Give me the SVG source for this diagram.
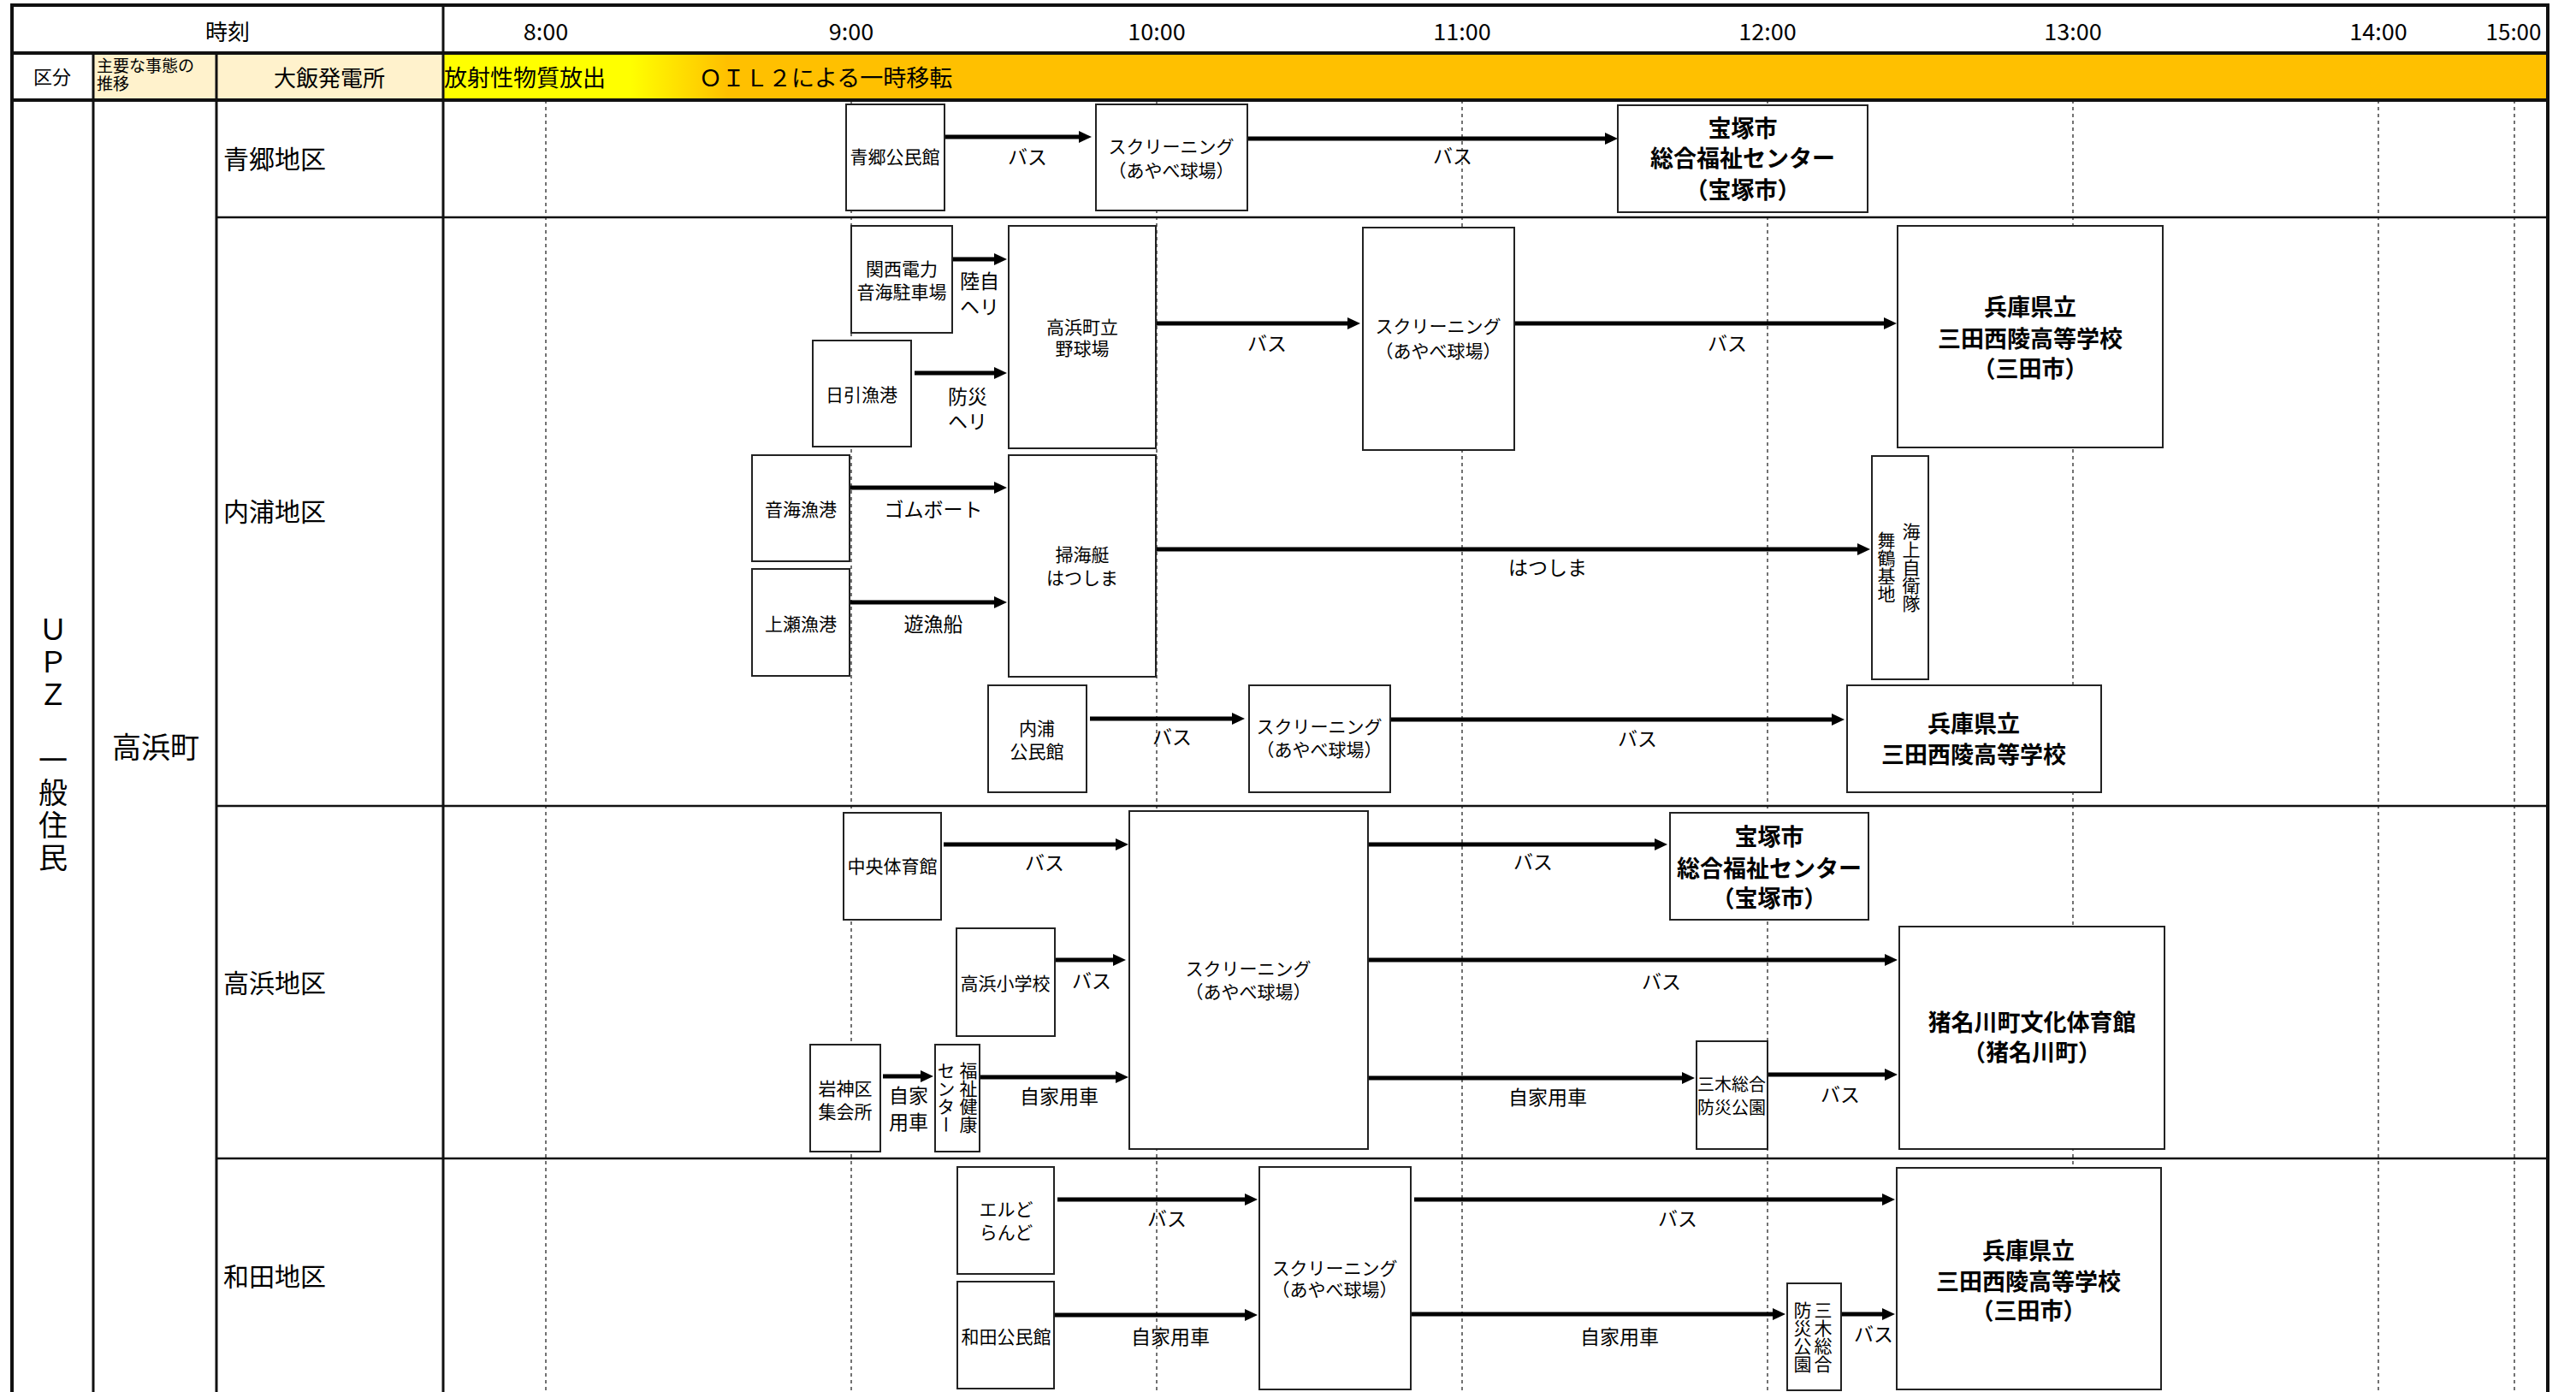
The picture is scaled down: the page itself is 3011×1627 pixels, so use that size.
<svg xmlns="http://www.w3.org/2000/svg" width="3011" height="1627" viewBox="0 0 3011 1627">
<style>
text{font-family:"Noto Sans CJK JP","Noto Sans",sans-serif;fill:#000}
.hd{font-size:26px;text-anchor:middle}
.tm{font-size:27px;text-anchor:middle}
.src{font-size:21px;text-anchor:middle}
.lbl{font-size:23px;text-anchor:middle}
.dst{font-size:27px;font-weight:bold;text-anchor:middle}
.reg{font-size:30px}
.vt{font-size:21px;writing-mode:vertical-rl;text-anchor:middle}
.box{fill:#fff;stroke:#222;stroke-width:2}
.arr{stroke:#000;stroke-width:5;fill:none;marker-end:url(#ah)}
.grid{stroke:#111;fill:none}
.dash{stroke:#444;stroke-width:1.5;stroke-dasharray:4 4}
</style>
<defs>
<marker id="ah" markerUnits="userSpaceOnUse" markerWidth="16" markerHeight="16" refX="5" refY="8" orient="auto"><path d="M0,1 L15,8 L0,15 z" fill="#000"/></marker>
<linearGradient id="band" gradientUnits="userSpaceOnUse" x1="518" y1="0" x2="2978" y2="0">
<stop offset="0" stop-color="#FFFF00"/><stop offset="0.089" stop-color="#FFFF00"/><stop offset="0.135" stop-color="#FFC000"/><stop offset="1" stop-color="#FFC000"/>
</linearGradient>
</defs>
<rect width="3011" height="1627" fill="#fff"/>
<g id="header">
<rect x="109" y="62" width="409" height="55" fill="#FFF2CC"/>
<rect x="518" y="62" width="2460" height="55" fill="url(#band)"/>
<text class="hd" x="266" y="47">時刻</text>
<text class="tm" x="638" y="47">8:00</text>
<text class="tm" x="995" y="47">9:00</text>
<text class="tm" x="1352" y="47">10:00</text>
<text class="tm" x="1709" y="47">11:00</text>
<text class="tm" x="2066" y="47">12:00</text>
<text class="tm" x="2423" y="47">13:00</text>
<text class="tm" x="2780" y="47">14:00</text>
<text class="tm" x="2938" y="47" style="font-size:26px">15:00</text>
<text x="61" y="98" style="font-size:22px;text-anchor:middle">区分</text>
<text x="113" y="84" style="font-size:19px">主要な事態の</text>
<text x="113" y="105" style="font-size:19px">推移</text>
<text x="385" y="101" style="font-size:26px;text-anchor:middle">大飯発電所</text>
<text x="519" y="101" style="font-size:27px">放射性物質放出</text>
<text x="817" y="101" style="font-size:27px">ＯＩＬ２による一時移転</text>
</g>
<g id="timelines">
<line class="dash" x1="638" y1="117" x2="638" y2="1627"/>
<line class="dash" x1="995" y1="117" x2="995" y2="1627"/>
<line class="dash" x1="1352" y1="117" x2="1352" y2="1627"/>
<line class="dash" x1="1709" y1="117" x2="1709" y2="1627"/>
<line class="dash" x1="2066" y1="117" x2="2066" y2="1627"/>
<line class="dash" x1="2423" y1="117" x2="2423" y2="1627"/>
<line class="dash" x1="2780" y1="117" x2="2780" y2="1627"/>
<line class="dash" x1="2939" y1="117" x2="2939" y2="1627"/>
</g>
<g id="grid">
<line class="grid" x1="14" y1="62" x2="2978" y2="62" stroke-width="4"/>
<line class="grid" x1="14" y1="117" x2="2978" y2="117" stroke-width="4"/>
<line class="grid" x1="518" y1="6" x2="518" y2="1627" stroke-width="3"/>
<line class="grid" x1="109" y1="62" x2="109" y2="1627" stroke-width="3"/>
<line class="grid" x1="253" y1="62" x2="253" y2="1627" stroke-width="3"/>
<line class="grid" x1="253" y1="254" x2="2978" y2="254" stroke-width="2.5"/>
<line class="grid" x1="253" y1="942" x2="2978" y2="942" stroke-width="2.5"/>
<line class="grid" x1="253" y1="1354" x2="2978" y2="1354" stroke-width="2.5"/>
<rect x="14" y="6" width="2964" height="1640" fill="none" stroke="#111" stroke-width="4"/>
</g>
<g id="rows">
<text x="62" y="871" style="font-size:34px;writing-mode:vertical-rl;text-anchor:middle;letter-spacing:4px">ＵＰＺ　一般住民</text>
<text x="182" y="886" style="font-size:34px;text-anchor:middle">高浜町</text>
<text class="reg" x="261" y="197">青郷地区</text>
<text class="reg" x="261" y="609">内浦地区</text>
<text class="reg" x="261" y="1160">高浜地区</text>
<text class="reg" x="261" y="1503">和田地区</text>
</g>
<g id="connectors">
<line class="arr" x1="1104" y1="160" x2="1266" y2="160"/>
<text class="lbl" x="1201" y="192">バス</text>
<line class="arr" x1="1458" y1="162" x2="1881" y2="162"/>
<text class="lbl" x="1698" y="191">バス</text>
<line class="arr" x1="1113" y1="303" x2="1167" y2="303"/>
<text class="lbl" x="1145" y="337">陸自</text>
<text class="lbl" x="1145" y="367">ヘリ</text>
<line class="arr" x1="1069" y1="436" x2="1167" y2="436"/>
<text class="lbl" x="1131" y="472">防災</text>
<text class="lbl" x="1131" y="501">ヘリ</text>
<line class="arr" x1="1351" y1="378" x2="1580" y2="378"/>
<text class="lbl" x="1481" y="410">バス</text>
<line class="arr" x1="1770" y1="378" x2="2207" y2="378"/>
<text class="lbl" x="2019" y="410">バス</text>
<line class="arr" x1="993" y1="570" x2="1167" y2="570"/>
<text class="lbl" x="1091" y="604">ゴムボート</text>
<line class="arr" x1="993" y1="704" x2="1167" y2="704"/>
<text class="lbl" x="1091" y="738">遊漁船</text>
<line class="arr" x1="1351" y1="642" x2="2176" y2="642"/>
<text class="lbl" x="1809" y="672">はつしま</text>
<line class="arr" x1="1274" y1="840" x2="1445" y2="840"/>
<text class="lbl" x="1370" y="870">バス</text>
<line class="arr" x1="1625" y1="841" x2="2146" y2="841"/>
<text class="lbl" x="1914" y="872">バス</text>
<line class="arr" x1="1103" y1="987" x2="1309" y2="987"/>
<text class="lbl" x="1221" y="1017">バス</text>
<line class="arr" x1="1599" y1="987" x2="1939" y2="987"/>
<text class="lbl" x="1792" y="1016">バス</text>
<line class="arr" x1="1233" y1="1122" x2="1306" y2="1122"/>
<text class="lbl" x="1276" y="1155">バス</text>
<line class="arr" x1="1599" y1="1122" x2="2208" y2="1122"/>
<text class="lbl" x="1942" y="1156">バス</text>
<line class="arr" x1="1032" y1="1258" x2="1081" y2="1258"/>
<text class="lbl" x="1062" y="1289">自家</text>
<text class="lbl" x="1062" y="1320">用車</text>
<line class="arr" x1="1145" y1="1259" x2="1309" y2="1259"/>
<text class="lbl" x="1238" y="1290">自家用車</text>
<line class="arr" x1="1599" y1="1260" x2="1971" y2="1260"/>
<text class="lbl" x="1809" y="1291">自家用車</text>
<line class="arr" x1="2066" y1="1256" x2="2208" y2="1256"/>
<text class="lbl" x="2151" y="1288">バス</text>
<line class="arr" x1="1236" y1="1402" x2="1460" y2="1402"/>
<text class="lbl" x="1364" y="1433">バス</text>
<line class="arr" x1="1232" y1="1537" x2="1460" y2="1537"/>
<text class="lbl" x="1368" y="1571">自家用車</text>
<line class="arr" x1="1653" y1="1402" x2="2205" y2="1402"/>
<text class="lbl" x="1961" y="1433">バス</text>
<line class="arr" x1="1649" y1="1536" x2="2077" y2="1536"/>
<text class="lbl" x="1893" y="1571">自家用車</text>
<line class="arr" x1="2152" y1="1536" x2="2205" y2="1536"/>
<text class="lbl" x="2190" y="1568">バス</text>
</g>
<g id="n_aogo_kominkan"><rect class="box" x="989" y="122" width="115" height="124"/><text class="src" x="1046" y="191">青郷公民館</text></g>
<g id="n_aogo_screening"><rect class="box" x="1281" y="122" width="177" height="124"/><text class="src" x="1369" y="179">スクリーニング</text><text class="src" x="1369" y="207">（あやべ球場）</text></g>
<g id="n_aogo_takarazuka"><rect class="box" x="1891" y="123" width="292" height="125"/><text class="dst" x="2037" y="160">宝塚市</text><text class="dst" x="2037" y="195">総合福祉センター</text><text class="dst" x="2037" y="232">（宝塚市）</text></g>
<g id="n_kanden"><rect class="box" x="995" y="264" width="118" height="125"/><text class="src" x="1054" y="322">関西電力</text><text class="src" x="1054" y="349">音海駐車場</text></g>
<g id="n_hibiki"><rect class="box" x="950" y="398" width="115" height="124"/><text class="src" x="1007" y="469">日引漁港</text></g>
<g id="n_takahama_stadium"><rect class="box" x="1179" y="264" width="172" height="260"/><text class="src" x="1265" y="390">高浜町立</text><text class="src" x="1265" y="415">野球場</text></g>
<g id="n_uchiura_screening1"><rect class="box" x="1593" y="266" width="177" height="260"/><text class="src" x="1681" y="389">スクリーニング</text><text class="src" x="1681" y="418">（あやべ球場）</text></g>
<g id="n_sanda1"><rect class="box" x="2218" y="264" width="310" height="259"/><text class="dst" x="2373" y="369">兵庫県立</text><text class="dst" x="2373" y="406">三田西陵高等学校</text><text class="dst" x="2373" y="441">（三田市）</text></g>
<g id="n_otomi"><rect class="box" x="879" y="532" width="114" height="124"/><text class="src" x="936" y="603">音海漁港</text></g>
<g id="n_uwase"><rect class="box" x="879" y="665" width="114" height="125"/><text class="src" x="936" y="737">上瀬漁港</text></g>
<g id="n_hatsushima"><rect class="box" x="1179" y="532" width="172" height="259"/><text class="src" x="1265" y="656">掃海艇</text><text class="src" x="1265" y="683">はつしま</text></g>
<g id="n_maizuru"><rect class="box" x="2188" y="533" width="66" height="261"/><text class="vt" x="2234" y="663">海上自衛隊</text><text class="vt" x="2205" y="663">舞鶴基地</text></g>
<g id="n_uchiura_kominkan"><rect class="box" x="1155" y="801" width="115" height="125"/><text class="src" x="1212" y="859">内浦</text><text class="src" x="1212" y="886">公民館</text></g>
<g id="n_uchiura_screening2"><rect class="box" x="1460" y="801" width="165" height="125"/><text class="src" x="1542" y="857">スクリーニング</text><text class="src" x="1542" y="884">（あやべ球場）</text></g>
<g id="n_sanda2"><rect class="box" x="2159" y="801" width="297" height="125"/><text class="dst" x="2307" y="856">兵庫県立</text><text class="dst" x="2307" y="892">三田西陵高等学校</text></g>
<g id="n_chuo"><rect class="box" x="986" y="950" width="114" height="125"/><text class="src" x="1043" y="1020">中央体育館</text></g>
<g id="n_takahama_screening"><rect class="box" x="1320" y="948" width="279" height="395"/><text class="src" x="1459" y="1140">スクリーニング</text><text class="src" x="1459" y="1167">（あやべ球場）</text></g>
<g id="n_takahama_sho"><rect class="box" x="1118" y="1085" width="115" height="126"/><text class="src" x="1175" y="1157">高浜小学校</text></g>
<g id="n_iwagami"><rect class="box" x="947" y="1221" width="82" height="125"/><text class="src" x="988" y="1280">岩神区</text><text class="src" x="988" y="1307">集会所</text></g>
<g id="n_fukushi"><rect class="box" x="1093" y="1221" width="52" height="125"/><text class="vt" x="1132" y="1283">福祉健康</text><text class="vt" x="1106" y="1283">センター</text></g>
<g id="n_takarazuka2"><rect class="box" x="1952" y="950" width="232" height="125"/><text class="dst" x="2068" y="988">宝塚市</text><text class="dst" x="2068" y="1025">総合福祉センター</text><text class="dst" x="2068" y="1060">（宝塚市）</text></g>
<g id="n_inagawa"><rect class="box" x="2220" y="1083" width="310" height="260"/><text class="dst" x="2375" y="1205">猪名川町文化体育館</text><text class="dst" x="2375" y="1240">（猪名川町）</text></g>
<g id="n_miki1"><rect class="box" x="1983" y="1217" width="83" height="126"/><text class="src" x="2024" y="1275" style="font-size:20px">三木総合</text><text class="src" x="2024" y="1302" style="font-size:20px">防災公園</text></g>
<g id="n_eldorando"><rect class="box" x="1119" y="1364" width="113" height="125"/><text class="src" x="1176" y="1421">エルど</text><text class="src" x="1176" y="1448">らんど</text></g>
<g id="n_wada_kominkan"><rect class="box" x="1119" y="1498" width="113" height="125"/><text class="src" x="1176" y="1570">和田公民館</text></g>
<g id="n_wada_screening"><rect class="box" x="1472" y="1364" width="177" height="260"/><text class="src" x="1560" y="1490">スクリーニング</text><text class="src" x="1560" y="1515">（あやべ球場）</text></g>
<g id="n_miki2"><rect class="box" x="2089" y="1500" width="63" height="125"/><text class="vt" x="2131" y="1563">三木総合</text><text class="vt" x="2107" y="1563">防災公園</text></g>
<g id="n_sanda3"><rect class="box" x="2217" y="1365" width="309" height="259"/><text class="dst" x="2371" y="1472">兵庫県立</text><text class="dst" x="2371" y="1508">三田西陵高等学校</text><text class="dst" x="2371" y="1542">（三田市）</text></g>
</svg>
